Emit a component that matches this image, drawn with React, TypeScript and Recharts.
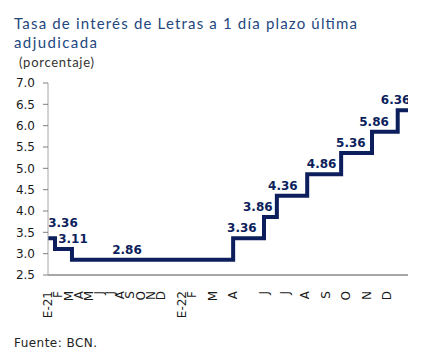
import React from 'react';
import { ComposedChart, Line, Scatter, XAxis, YAxis } from 'recharts';

// Step points of the rate series (x = observation index on the category-like axis)
const stepX = [0, 0.68, 2.33, 18.0, 21.0, 22.25, 25.2, 28.5, 31.5, 34.0, 35];
const stepRate = [3.36, 3.11, 2.86, 3.36, 3.86, 4.36, 4.86, 5.36, 5.86, 6.36, 6.36];

// Labelled observations
const labelX = [1.46, 2.43, 7.68, 18.85, 20.4, 22.84, 26.6, 29.45, 31.7, 33.8];
const labelRate = [3.36, 3.11, 2.86, 3.36, 3.86, 4.36, 4.86, 5.36, 5.86, 6.36];

// X axis month ticks
const tickPos = [0, 1, 2, 3, 4, 5, 6, 7, 8, 9, 10, 11, 13, 14, 16, 18, 21, 23, 25, 27, 29, 31, 33];
const tickLabels = ['E-21', 'F', 'M', 'A', 'M', 'J', 'J', 'A', 'S', 'O', 'N', 'D', 'E-22', 'F', 'M', 'A', 'J', 'J', 'A', 'S', 'O', 'N', 'D'];

const yTicks = [2.5, 3.0, 3.5, 4.0, 4.5, 5.0, 5.5, 6.0, 6.5, 7.0];

const lineData = stepX.map((x, i) => ({ x, rate: stepRate[i] }));
const labelData = labelX.map((x, i) => ({ x, rate: labelRate[i] }));

const NAVY = '#0c1f5c';

const XTick = (props: any) => {
  const { x, y, payload } = props;
  const idx = tickPos.indexOf(payload.value);
  const label = idx >= 0 ? tickLabels[idx] : '';
  const ax = x + 4;
  const ay = y + 8;
  return (
    <text
      x={ax}
      y={ay}
      transform={`rotate(-90, ${ax}, ${ay})`}
      textAnchor="end"
      fontSize={12}
      fontFamily="DejaVu Sans"
      fill="#1a1a1a"
    >
      {label}
    </text>
  );
};

const LabelShape = (props: any) => {
  const { cx, cy, payload, index } = props;
  // first label is lifted higher so it clears the neighbouring 3.11 label
  const lift = index === 0 ? 11 : 6;
  return (
    <text
      x={cx}
      y={cy - lift}
      textAnchor="middle"
      fontSize={12}
      fontWeight="bold"
      fontFamily="DejaVu Sans"
      fill={NAVY}
    >
      {payload.rate.toFixed(2)}
    </text>
  );
};

export default function App() {
  return (
    <div style={{ position: 'absolute', left: 0, top: 0, width: 431, height: 360, background: '#fff' }}>
      <ComposedChart
        width={431}
        height={360}
        margin={{ top: 83, right: 23, bottom: 45, left: 8 }}
      >
        <XAxis
          type="number"
          dataKey="x"
          domain={[0, 35]}
          ticks={tickPos}
          interval={0}
          allowDataOverflow
          axisLine={{ stroke: '#a6a6a6', strokeWidth: 2 }}
          tickLine={false}
          tick={<XTick />}
          height={40}
        />
        <YAxis
          type="number"
          domain={[2.5, 7]}
          ticks={yTicks}
          interval={0}
          width={40}
          tickFormatter={(v: number) => v.toFixed(1)}
          axisLine={{ stroke: '#a6a6a6' }}
          tickLine={{ stroke: '#7f7f7f' }}
          tickSize={5}
          tickMargin={8}
          tick={{ fontSize: 12, fontFamily: 'DejaVu Sans', fill: '#1a1a1a' }}
        />
        <Line
          data={lineData}
          dataKey="rate"
          type="stepAfter"
          stroke={NAVY}
          strokeWidth={4}
          dot={false}
          activeDot={false}
          isAnimationActive={false}
        />
        <Scatter
          data={labelData}
          dataKey="rate"
          shape={<LabelShape />}
          isAnimationActive={false}
        />
      </ComposedChart>
      <svg
        width={431}
        height={360}
        style={{ position: 'absolute', left: 0, top: 0, pointerEvents: 'none' }}
      >
        <text x={14} y={29} fontSize={15} fontFamily="Lato" fill="#24487d" textLength={343} lengthAdjust="spacing">
          Tasa de interés de Letras a 1 día plazo última
        </text>
        <text x={14} y={48} fontSize={15} fontFamily="Lato" fill="#24487d" textLength={83} lengthAdjust="spacing">
          adjudicada
        </text>
        <text x={19} y={67} fontSize={13} fontFamily="Lato" fill="#333333" textLength={75} lengthAdjust="spacing">
          (porcentaje)
        </text>
        <text x={14} y={347} fontSize={12} fontFamily="DejaVu Sans" fill="#222222" textLength={83} lengthAdjust="spacing">
          Fuente: BCN.
        </text>
      </svg>
    </div>
  );
}
